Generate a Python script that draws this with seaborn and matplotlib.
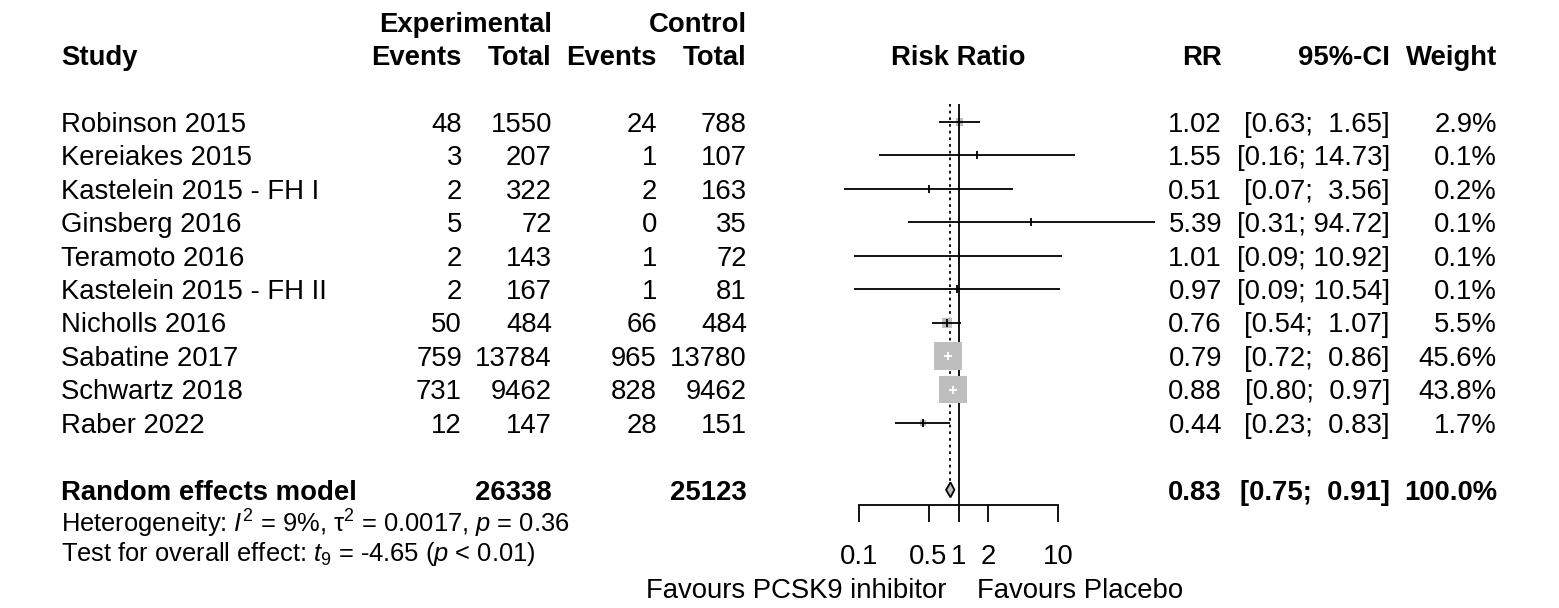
import matplotlib
import numpy as np
import pandas as pd
import seaborn as sns
from matplotlib import pyplot as plt
from matplotlib.ticker import NullLocator

# data
studies = [
    "Robinson 2015",
    "Kereiakes 2015",
    "Kastelein 2015 - FH I",
    "Ginsberg 2016",
    "Teramoto 2016",
    "Kastelein 2015 - FH II",
    "Nicholls 2016",
    "Sabatine 2017",
    "Schwartz 2018",
    "Raber 2022",
]
exp_events = [48, 3, 2, 5, 2, 2, 50, 759, 731, 12]
exp_total = [1550, 207, 322, 72, 143, 167, 484, 13784, 9462, 147]
ctrl_events = [24, 1, 2, 0, 1, 1, 66, 965, 828, 28]
ctrl_total = [788, 107, 163, 35, 72, 81, 484, 13780, 9462, 151]
rr = [1.02, 1.55, 0.51, 5.39, 1.01, 0.97, 0.76, 0.79, 0.88, 0.44]
ci_low = [0.63, 0.16, 0.07, 0.31, 0.09, 0.09, 0.54, 0.72, 0.80, 0.23]
ci_high = [1.65, 14.73, 3.56, 94.72, 10.92, 10.54, 1.07, 0.86, 0.97, 0.83]
weight = [2.9, 0.1, 0.2, 0.1, 0.1, 0.1, 5.5, 45.6, 43.8, 1.7]

pooled_label = "Random effects model"
pooled_exp_total = 26338
pooled_ctrl_total = 25123
pooled_rr = 0.83
pooled_low = 0.75
pooled_high = 0.91
pooled_weight = 100.0

tick_values = [0.1, 0.5, 1, 2, 10]
tick_labels = ["0.1", "0.5", "1", "2", "10"]

# layout (pixels, figure is 1559 x 608 at 100 dpi)
W, H, DPI = 1559, 608, 100
X_NULL, PX_DECADE = 958.5, 99.5
ROW0, ROW_STEP = 122, 33.44
AXIS_Y = 505
FS = 19.8
FS_SMALL = 18.4
GREY = "#BEBEBE"
LW = 1.3
BOX_PX_MAX = 28  # side of the largest square in pixels

matplotlib.rcParams["font.family"] = ["Liberation Sans", "DejaVu Sans"]
matplotlib.rcParams["mathtext.fontset"] = "custom"
matplotlib.rcParams["mathtext.rm"] = "Liberation Sans"
matplotlib.rcParams["mathtext.it"] = "Liberation Sans:italic"
matplotlib.rcParams["mathtext.bf"] = "Liberation Sans:bold"


def row_y(i: float) -> float:
    return ROW0 + ROW_STEP * i


def to_px(values) -> np.ndarray:
    return X_NULL + PX_DECADE * np.log10(np.asarray(values, dtype=float))


def put(ax, x, yc, s, ha="right", bold=False, size=FS):
    # place text so that the cap height is centred on yc
    base = yc + 0.358 * size * DPI / 72
    ax.text(x, base, s, ha=ha, va="baseline", fontsize=size,
            fontweight="bold" if bold else "normal")


fig = plt.figure(figsize=(W / DPI, H / DPI), dpi=DPI)

# ---- table text -------------------------------------------------------
ax_tab = fig.add_axes([0, 0, 1, 1])
ax_tab.set_xlim(0, W)
ax_tab.set_ylim(H, 0)
ax_tab.axis("off")

col_study, col_ee, col_et, col_ce, col_ct = 61, 462, 552, 657, 747
col_rr, col_ci, col_w = 1222, 1390, 1497

put(ax_tab, col_et, row_y(-3), "Experimental", bold=True)
put(ax_tab, col_ct, row_y(-3), "Control", bold=True)
put(ax_tab, col_study, row_y(-2), "Study", ha="left", bold=True)
for x, s in [(col_ee, "Events"), (col_et, "Total"), (col_ce, "Events"), (col_ct, "Total"),
             (col_rr, "RR"), (col_ci, "95%-CI"), (col_w, "Weight")]:
    put(ax_tab, x, row_y(-2), s, bold=True)
put(ax_tab, X_NULL, row_y(-2), "Risk Ratio", ha="center", bold=True)

for i, name in enumerate(studies):
    y = row_y(i)
    put(ax_tab, col_study, y, name, ha="left")
    put(ax_tab, col_ee, y, str(exp_events[i]))
    put(ax_tab, col_et, y, str(exp_total[i]))
    put(ax_tab, col_ce, y, str(ctrl_events[i]))
    put(ax_tab, col_ct, y, str(ctrl_total[i]))
    put(ax_tab, col_rr, y, f"{rr[i]:.2f}")
    put(ax_tab, col_ci, y, f"[{ci_low[i]:.2f}; {ci_high[i]:5.2f}]")
    put(ax_tab, col_w, y, f"{weight[i]:.1f}%")

y_pool = row_y(len(studies) + 1)
put(ax_tab, col_study, y_pool, pooled_label, ha="left", bold=True)
put(ax_tab, col_et, y_pool, str(pooled_exp_total), bold=True)
put(ax_tab, col_ct, y_pool, str(pooled_ctrl_total), bold=True)
put(ax_tab, col_rr, y_pool, f"{pooled_rr:.2f}", bold=True)
put(ax_tab, col_ci, y_pool, f"[{pooled_low:.2f}; {pooled_high:5.2f}]", bold=True)
put(ax_tab, col_w, y_pool, f"{pooled_weight:.1f}%", bold=True)

put(ax_tab, col_study, 523,
    r"Heterogeneity: $\mathit{I}^2$ = 9%, τ$^2$ = 0.0017, $\mathit{p}$ = 0.36",
    ha="left", size=FS_SMALL)
put(ax_tab, col_study, 552,
    r"Test for overall effect: $\mathit{t}_9$ = -4.65 ($\mathit{p}$ < 0.01)",
    ha="left", size=FS_SMALL)

put(ax_tab, 946, 588, "Favours PCSK9 inhibitor", ha="right")
put(ax_tab, 977, 588, "Favours Placebo", ha="left")

# ---- forest panel -----------------------------------------------------
ax = fig.add_axes([0, 1 - AXIS_Y / H, 1, AXIS_Y / H])
ax.set_facecolor("none")
ax.set_xscale("log")
ax.set_xlim(10 ** (-X_NULL / PX_DECADE), 10 ** ((W - X_NULL) / PX_DECADE))
ax.set_ylim(AXIS_Y, 0)

frame = pd.DataFrame({
    "study": studies,
    "rr": rr,
    "low": ci_low,
    "high": ci_high,
    "weight": weight,
})
frame["y"] = [row_y(i) for i in range(len(frame))]

# marker area proportional to weight
pt_per_px = 72 / DPI
area_per_weight = (BOX_PX_MAX * pt_per_px) ** 2 / max(weight)
wmin, wmax = min(weight), max(weight)

# reference lines
ax.vlines(1, 104, AXIS_Y, color="black", lw=LW, zorder=1)
ax.vlines(pooled_rr, 104, y_pool - 7.5, color="black", lw=LW,
          linestyle=(0, (1.5, 2.2)), zorder=1)

sns.scatterplot(
    data=frame, x="rr", y="y", size="weight",
    sizes=(area_per_weight * wmin, area_per_weight * wmax), size_norm=(wmin, wmax),
    marker="s", color=GREY, linewidth=0, legend=False, ax=ax, zorder=2,
)

# CI drawn white when it fits inside its square
box_half_px = BOX_PX_MAX * np.sqrt(frame["weight"] / wmax) / 2
inside = ((to_px(frame["rr"]) - to_px(frame["low"])) < box_half_px) & \
         ((to_px(frame["high"]) - to_px(frame["rr"])) < box_half_px)
colors = ["white" if k else "black" for k in inside]

ax.hlines(frame["y"], frame["low"], frame["high"], colors=colors, lw=LW, zorder=3)
ax.vlines(frame["rr"], frame["y"] - 4, frame["y"] + 4, colors=colors, lw=LW, zorder=3)

ax.fill([pooled_low, pooled_rr, pooled_high, pooled_rr],
        [y_pool, y_pool - 7.5, y_pool, y_pool + 7.5],
        facecolor=GREY, edgecolor="black", lw=LW, zorder=3)

for side in ["left", "right", "top"]:
    ax.spines[side].set_visible(False)
ax.spines["bottom"].set_bounds(min(tick_values), max(tick_values))
ax.spines["bottom"].set_linewidth(LW)
ax.set_xticks(tick_values)
ax.set_xticklabels(tick_labels)
ax.xaxis.set_minor_locator(NullLocator())
ax.tick_params(axis="x", direction="out", length=17 * pt_per_px, width=LW,
               pad=16, labelsize=FS)
ax.set_yticks([])
ax.set_xlabel("")
ax.set_ylabel("")

fig.savefig("out.png", dpi=DPI)
